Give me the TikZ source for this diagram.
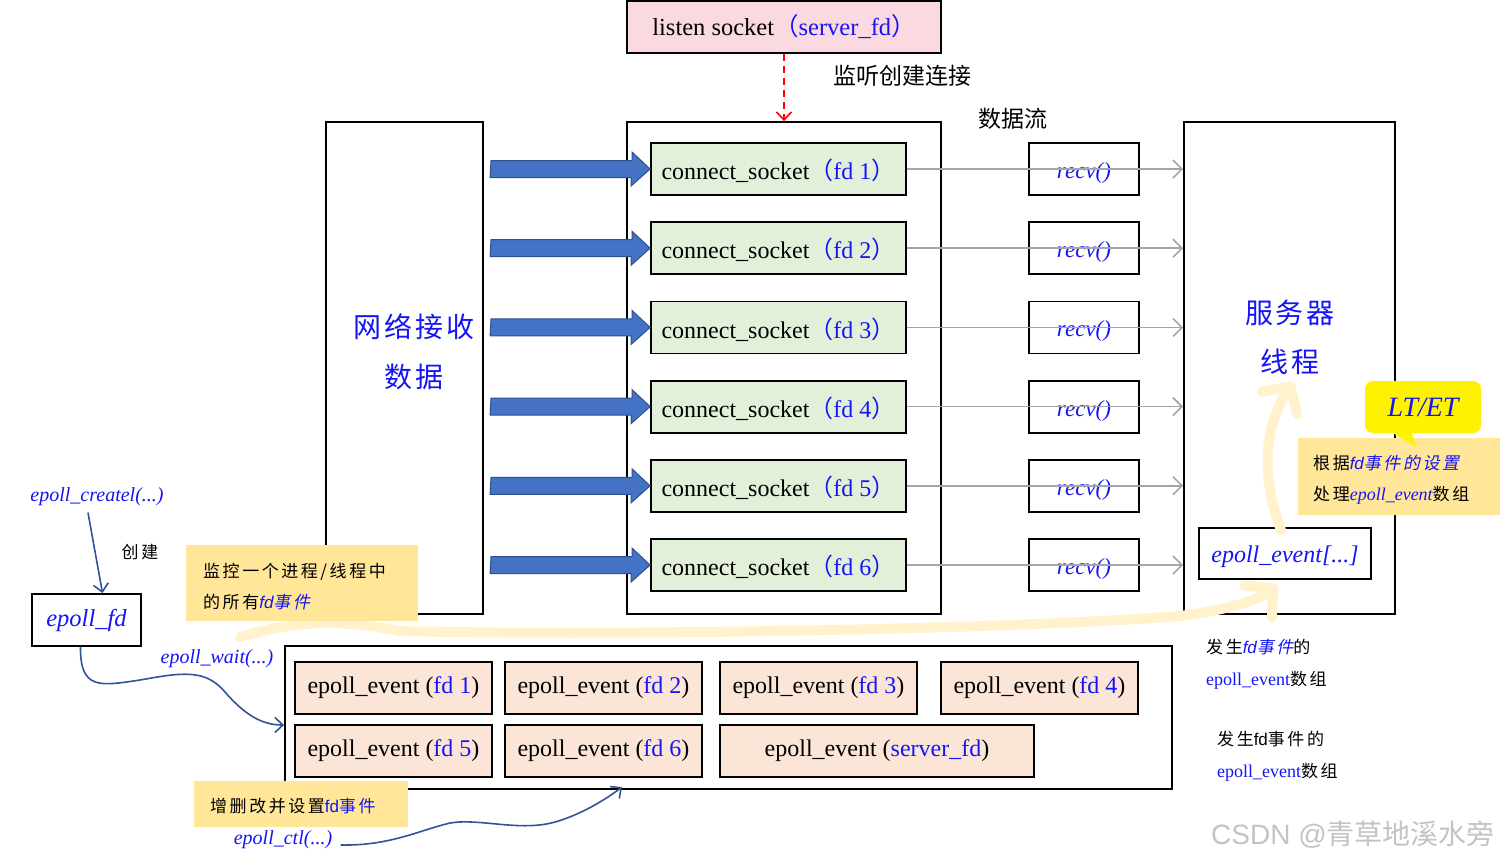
\documentclass[tikz,border=0pt]{standalone}
\usepackage{fontspec}
\setmainfont{Liberation Serif}
\newfontfamily\sansf{Liberation Sans}
\newfontfamily\cjk{Noto Sans CJK SC}
\newfontfamily\cjks[LetterSpace=15]{Noto Sans CJK SC}
\newfontfamily\cjkw[LetterSpace=10]{Noto Sans CJK SC}
\newfontfamily\cjkit[FakeSlant=0.2,LetterSpace=15]{Noto Sans CJK SC}
\usetikzlibrary{arrows.meta}
\definecolor{tb}{RGB}{20,20,245}
\definecolor{pinkf}{RGB}{250,218,224}
\definecolor{greenf}{RGB}{226,240,217}
\definecolor{peach}{RGB}{251,229,214}
\definecolor{notey}{RGB}{255,230,153}
\definecolor{paley}{RGB}{255,242,204}
\definecolor{arrfill}{RGB}{68,114,196}
\definecolor{arredge}{RGB}{47,82,143}
\definecolor{cblue}{RGB}{47,85,151}
\definecolor{lgray}{RGB}{165,165,165}
\definecolor{wm}{RGB}{195,195,195}
\newcommand\fsz[2]{\fontsize{#1}{#2}\selectfont}
\begin{document}
\begin{tikzpicture}[x=1pt,y=-1pt,
  bigbox/.style={draw, line width=1.8pt, inner sep=0pt},
  sbox/.style={draw, line width=1.8pt, inner sep=0pt, minimum height=52pt},
  csbox/.style={sbox, fill=greenf, minimum width=255pt, font=\fsz{24}{28}},
  recvbox/.style={sbox, minimum width=110pt},
  recvtext/.style={font=\fsz{23}{27}\itshape, text=tb, inner sep=0pt},
  evbox/.style={sbox, fill=peach, minimum width=197pt, font=\fsz{24}{28}},
  note/.style={fill=notey, inner sep=0pt},
  notetext/.style={inner sep=0pt, align=left, anchor=west, font=\cjks\fsz{17}{31}},
  grayconn/.style={draw=lgray, line width=1.6pt, -{Straight Barb[length=9pt,width=18pt]}},
  bconn/.style={draw=cblue, line width=1.6pt, -{Straight Barb[length=8pt,width=15pt]}},
  redconn/.style={draw=red, line width=1.6pt, dash pattern=on 7pt off 5pt, -{Straight Barb[length=8pt,width=15pt]}},
  paleconn/.style={draw=paley, line width=10pt, line cap=round, -{Straight Barb[length=20pt,width=42pt,round]}},
  blockarr/.style={fill=arrfill, draw=arredge, line width=1pt},
  fnlabel/.style={font=\fsz{20}{24}\itshape, text=tb}
]
\useasboundingbox (0,0) rectangle (1501,862);

% big frames
\node[bigbox, minimum width=157pt, minimum height=492pt] (net) at (404.5,368) {};
\node[bigbox, minimum width=314pt, minimum height=492pt] (mid) at (784,368) {};
\node[bigbox, minimum width=211pt, minimum height=492pt] (srv) at (1289.5,368) {};
\node[bigbox, minimum width=887pt, minimum height=143pt] (cont) at (728.5,717.5) {};

% listen socket
\node[sbox, fill=pinkf, minimum width=314pt, font=\fsz{24.5}{28}] (listen) at (784,27)
  {listen socket{\color{tb}{\cjk （}server\_fd{\cjk ）}}};
\draw[redconn] (listen.south) -- (mid.north);

% labels in frames
\node[font=\cjkw\fsz{28}{50}, text=tb, align=center] (netlbl) at (414,352) {网络接收\\数据};
\node[font=\cjkw\fsz{28}{49}, text=tb, align=center] (srvlbl) at (1290,337) {服务器\\线程};
\node[font=\cjk\fsz{23}{27}] (lbllisten) at (902,76) {监听创建连接};
\node[font=\cjk\fsz{23}{27}] (lblflow) at (1013,119) {数据流};

% epoll_event[...] box
\node[sbox, minimum width=172pt, minimum height=51pt] (epl) at (1285,553.5) {};
\node[recvtext, font=\fsz{24}{28}\itshape] (epltext) at ([yshift=-3pt]epl.center) {epoll\_event[...]};

% pale wide arrows
\coordinate (pstart) at (240,637);
\coordinate (srvin) at (1293,382);
\draw[paleconn] (pstart) .. controls (290,622) and (335,618) .. (400,631)
  .. controls (600,636) and (1000,630) .. (1180,616)
  .. controls (1230,610) and (1262,598) .. ([xshift=-8pt,yshift=-5pt]epl.south);
\draw[paleconn] ([xshift=-4pt,yshift=-3pt]epl.north) .. controls (1262,480) and (1262,430) .. (srvin);

% rows
\foreach \i in {1,...,6}{
  \pgfmathsetmacro\yy{169+79.2*(\i-1)}
  \node[csbox] (cs\i) at (778.5,\yy) {};
  \node[inner sep=0pt, font=\fsz{24}{28}] (cst\i) at ([yshift=-2pt]cs\i.center) {connect\_socket{\color{tb}{\cjk （}fd \i{\cjk ）}}};
  \node[recvbox] (rv\i) at (1084,\yy) {};
  \node[recvtext] (rt\i) at ([yshift=-4pt]rv\i.center) {recv()};
  \draw[grayconn] (cs\i.east) -- (cs\i.east -| srv.west);
  \coordinate (bs\i) at (491,\yy);
  \draw[blockarr] (bs\i) ++(0,-8.5) -- ++(141,0) -- ++(0,-8.5) -- (cs\i.west)
     -- ++(-19,17) -- ++(0,-8.5) -- ++(-141,0) -- cycle;
}

% epoll_event boxes
\node[evbox] (ev1) at (393.5,688) {epoll\_event ({\color{tb}fd 1})};
\node[evbox] (ev2) at (603.5,688) {epoll\_event ({\color{tb}fd 2})};
\node[evbox] (ev3) at (818.5,688) {epoll\_event ({\color{tb}fd 3})};
\node[evbox] (ev4) at (1039.5,688) {epoll\_event ({\color{tb}fd 4})};
\node[evbox] (ev5) at (393.5,751) {epoll\_event ({\color{tb}fd 5})};
\node[evbox] (ev6) at (603.5,751) {epoll\_event ({\color{tb}fd 6})};
\node[evbox, minimum width=314pt] (ev7) at (877,751) {epoll\_event ({\color{tb}server\_fd})};

% epoll_fd and function labels
\node[sbox, minimum width=109pt, font=\fsz{24.5}{28}\itshape, text=tb] (efd) at (86.5,620) {epoll\_fd};
\node[fnlabel] (ecl) at (97,497) {epoll\_createl(...)};
\node[fnlabel] (ewt) at (217,659) {epoll\_wait(...)};
\node[fnlabel] (ectl) at (283,840) {epoll\_ctl(...)};
\node[font=\cjks\fsz{17}{20}] (lblcreate) at (140,552) {创建};

\draw[bconn] ([xshift=-9pt,yshift=-3pt]ecl.south) -- ([xshift=16pt]efd.north);
\draw[bconn] ([xshift=-6pt]efd.south) .. controls (80,690) and (100,686) .. (140,680)
  .. controls (180,673) and (205,668) .. (225,692)
  .. controls (245,715) and (262,725) .. ([yshift=-7.5pt]cont.west);
\coordinate (ctlend) at (622,787);
\draw[bconn] ([xshift=5pt,yshift=-5pt]ectl.east) .. controls (390,846) and (420,830) .. (450,823)
  .. controls (480,818) and (520,832) .. (555,822)
  .. controls (580,815) and (605,800) .. (ctlend);

% notes
\node[note, minimum width=232pt, minimum height=76pt] (n1) at (302,583) {};
\node[notetext] (n1t) at (203,586.5)
  {监控一个进程/线程中\\的所有{\color{tb}\sansf\itshape fd}{\cjkit\color{tb}事件}};
\node[note, minimum width=214pt, minimum height=46pt] (n2) at (301,804) {};
\node[notetext] (n2t) at (210,806)
  {增删改并设置{\color{tb}\sansf fd}{\color{tb}事件}};
\node[fill=yellow, rounded corners=8pt, minimum width=116pt, minimum height=52pt, inner sep=0pt,
  font=\fsz{28}{32}\itshape, text=tb] (lt) at (1423,407) {LT/ET};
\node[note, minimum width=202pt, minimum height=77pt] (n3) at (1399,476.5) {};
\node[notetext] (n3t) at (1313,480)
  {根据{\color{tb}\sansf\itshape fd}{\cjkit\color{tb}事件的设置}\\处理{\rmfamily\itshape\fsz{18}{31}\color{tb}epoll\_event}数组};
\fill[yellow] ([xshift=-37pt,yshift=4pt]lt.south) -- ([xshift=-13pt,yshift=4pt]lt.south)
  -- ([xshift=-6pt,yshift=-14pt]lt.south) -- cycle;

% right side labels
\node[anchor=west, align=left, inner sep=0pt, font=\cjks\fsz{17}{32}] (lbla) at (1206,664)
  {发生{\color{tb}\sansf\itshape fd}{\cjkit\color{tb}事件}的\\{\rmfamily\fsz{18}{32}\color{tb}epoll\_event}数组};
\node[anchor=west, align=left, inner sep=0pt, font=\cjks\fsz{17}{32}] (lblb) at (1217,756)
  {发生{\sansf fd}事件的\\{\rmfamily\fsz{18}{32}\color{tb}epoll\_event}数组};

% watermark
\node[font=\fsz{28}{32}, text=wm] (wmark) at (1353,835) {{\sansf CSDN @}{\cjk 青草地溪水旁}};
\end{tikzpicture}
\end{document}
